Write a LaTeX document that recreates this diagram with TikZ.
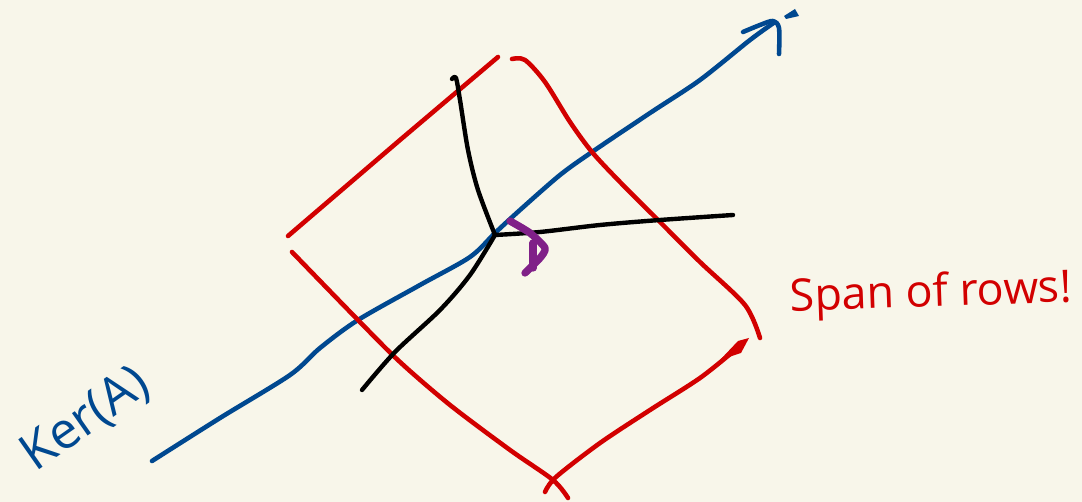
\documentclass[tikz,border=0pt]{standalone}
\usepackage{fontspec}
\setmainfont{Open Sans}
\usepackage{xcolor}
\usetikzlibrary{arrows.meta,positioning,calc}
\definecolor{paper}{RGB}{248,246,234}
\definecolor{inkred}{RGB}{210,0,0}
\definecolor{inkblue}{RGB}{0,72,144}
\definecolor{inkpurple}{RGB}{128,32,136}

\begin{document}
\begin{tikzpicture}[
    x=0.02cm, y=-0.02cm,
    redline/.style={draw=inkred, line width=2.6pt, line cap=round, line join=round},
    blueline/.style={draw=inkblue, line width=2.6pt, line cap=round, line join=round},
    blackline/.style={draw=black, line width=2.5pt, line cap=round, line join=round},
    purpleline/.style={draw=inkpurple, line width=4.2pt, line cap=round, line join=round},
    lab/.style={inner sep=0pt}
]
    \fill[paper] (0,0) rectangle (1082,502);
    \useasboundingbox (0,0) rectangle (1082,502);

    % Punto central
    \coordinate (center) at (495,235);

    % Kernel line
    \draw[blueline] plot[smooth, tension=0.5] coordinates {(152,461) (220,418) (290,375) (320,348) (358,320) (420,285) (470,257) (495,233) (520,210) (560,175) (592,152) (650,113) (700,80) (750,40) (775,22)};
    \draw[blueline] plot[smooth, tension=0.5] coordinates {(743,32) (760,25) (773,21) (779,28) (779,54)};
    \fill[inkblue] (784,16) -- (795,9) -- (799,16) -- (786,19) -- cycle;
    \node[lab, text=inkblue, rotate=35, font=\fontsize{29}{32}\selectfont] (kerlabel) at (86,420) {Ker(A)};

    % Square of rows
    \draw[redline] (288,236) -- (400,140) -- (498,57);
    \draw[redline] plot[smooth, tension=0.5] coordinates {(512,59) (525,60) (545,82) (570,122) (592,152) (620,182) (660,222) (700,262) (745,305) (760,338)};
    \draw[redline] plot[smooth, tension=0.5] coordinates {(292,252) (358,320) (400,362) (450,405) (510,450) (553,480) (568,498)};
    \draw[redline] plot[smooth, tension=0.5] coordinates {(545,492) (556,477) (600,443) (650,410) (700,378) (735,350)};
    \fill[inkred] (720,360) -- (738,341) -- (749,338) -- (741,353) -- cycle;
    \node[lab, text=inkred, rotate=2, font=\fontsize{25.5}{28}\selectfont] (rowslabel) at (931,295) {Span of rows!};

    % Black axes
    \draw[blackline] plot[smooth, tension=0.5] coordinates {(452,79) (456,78) (460,100) (468,150) (478,190) (center)};
    \draw[blackline] plot[smooth, tension=0.5] coordinates {(733,215) (660,220) (600,225) (540,232) (center)};
    \draw[blackline] plot[smooth, tension=0.5] coordinates {(center) (470,275) (440,310) (395,352) (362,390)};

    % Right angle
    \draw[purpleline] plot[smooth, tension=0.4] coordinates {(510,221) (530,233) (545,248) (540,258) (525,273)};
    \draw[purpleline] (533,243) -- (533,268);
\end{tikzpicture}
\end{document}
